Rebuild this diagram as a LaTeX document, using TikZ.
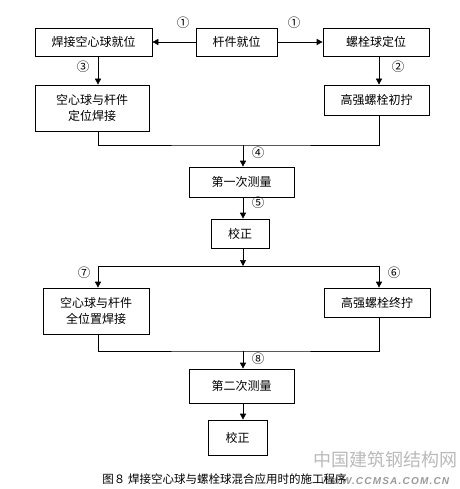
\documentclass[tikz,border=0pt]{standalone}
\usepackage{fontspec}
\setmainfont{Liberation Sans}
\newfontfamily\cjk{Noto Sans CJK SC}
\usetikzlibrary{arrows.meta,positioning,calc}
\tikzset{
  stepbox/.style={draw=black, line width=0.7pt, align=center, font=\cjk\fontsize{12}{16}\selectfont,
    inner sep=2pt},
  flowarrow/.style={-{Triangle[length=6pt,width=6pt]}, line width=0.7pt, draw=black},
  flowline/.style={line width=0.7pt, draw=black},
  stepno/.style={font=\cjk\fontsize{12.5}{12.5}\selectfont},
  capnote/.style={font=\cjk\fontsize{11.5}{11.5}\selectfont},
  wmark/.style={text=black!27}
}
\begin{document}
\begin{tikzpicture}[x=1pt,y=-1pt]
  \useasboundingbox (0,0) rectangle (459,489);
  % first row
  \node[stepbox, minimum width=117pt, minimum height=28pt] (hollow) at (93.5,42) {焊接空心球就位};
  \node[stepbox, minimum width=81pt, minimum height=28pt] (member) at (236.5,42) {杆件就位};
  \node[stepbox, minimum width=106pt, minimum height=28pt] (boltball) at (376,42) {螺栓球定位};
  \node[stepbox, minimum width=114pt, minimum height=46pt] (tackweld) at (92,108) {空心球与杆件\\定位焊接};
  \node[stepbox, minimum width=105pt, minimum height=30pt] (pretight) at (376.5,100) {高强螺栓初拧};
  % middle column
  \node[stepbox, minimum width=105pt, minimum height=30pt] (measA) at (241.5,182) {第一次测量};
  \node[stepbox, minimum width=58pt, minimum height=29pt] (correctA) at (240,233.5) {校正};
  \node[stepbox, minimum width=106pt, minimum height=46pt] (fullweld) at (96,311) {空心球与杆件\\全位置焊接};
  \node[stepbox, minimum width=106pt, minimum height=29pt] (finaltight) at (377,302.5) {高强螺栓终拧};
  \node[stepbox, minimum width=105pt, minimum height=34pt] (measB) at (241.5,386) {第二次测量};
  \node[stepbox, minimum width=59pt, minimum height=35pt] (correctB) at (237.5,437.5) {校正};

  \coordinate (lcol) at (98,0);
  \coordinate (rcol) at (379,0);
  \coordinate (ccol) at (243,0);
  \coordinate (joinA) at (243,145);
  \coordinate (splitA) at (243,266);
  \coordinate (joinB) at (243,351);

  \draw[flowarrow] (member) -- (hollow);
  \draw[flowarrow] (member) -- (boltball);
  \draw[flowarrow] (lcol |- hollow.south) -- (lcol |- tackweld.north);
  \draw[flowarrow] (rcol |- boltball.south) -- (rcol |- pretight.north);
  \draw[flowline] (lcol |- tackweld.south) |- (joinA) -| (rcol |- pretight.south);
  \draw[flowarrow] (joinA) -- (ccol |- measA.north);
  \draw[flowarrow] (ccol |- measA.south) -- (ccol |- correctA.north);
  \draw[flowarrow] (ccol |- correctA.south) -- (splitA);
  \draw[flowarrow] (splitA) -| (lcol |- fullweld.north);
  \draw[flowarrow] (splitA) -| (rcol |- finaltight.north);
  \draw[flowline] (lcol |- fullweld.south) |- (joinB) -| (rcol |- finaltight.south);
  \draw[flowarrow] (joinB) -- (ccol |- measB.north);
  \draw[flowarrow] (ccol |- measB.south) -- (ccol |- correctB.north);

  % step numbers
  \node[stepno] (n1a) at (183,23) {①};
  \node[stepno] (n1b) at (294,23) {①};
  \node[stepno] (n3) at (83,67) {③};
  \node[stepno] (n2) at (398,67) {②};
  \node[stepno] (n4) at (258,153) {④};
  \node[stepno] (n5) at (258,203) {⑤};
  \node[stepno] (n7) at (84,273) {⑦};
  \node[stepno] (n6) at (394,273) {⑥};
  \node[stepno] (n8) at (258,359) {⑧};

  % caption and watermark
  \node[wmark, font=\cjk\fontsize{18}{18}\selectfont] (wmcn) at (385,460) {中国建筑钢结构网};
  \node[wmark, text=black!40, font=\bfseries\itshape\fontsize{10}{10}\selectfont\addfontfeature{LetterSpace=12}] (wmurl) at (385,481) {WWW.CCMSA.COM.CN};
  \node[capnote] (caption) at (224.5,479) {图８ 焊接空心球与螺栓球混合应用时的施工程序};
\end{tikzpicture}
\end{document}
